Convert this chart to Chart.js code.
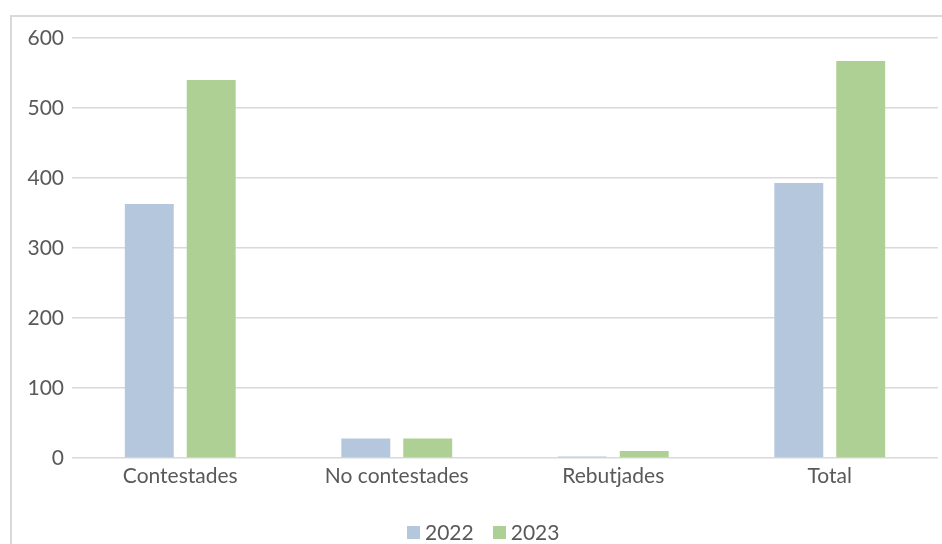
<!DOCTYPE html>
<html>
<head>
<meta charset="utf-8">
<script src="https://cdn.jsdelivr.net/npm/chart.js@4"></script>
<style>
  body { margin: 0; background: #fff; font-family: Lato, "Open Sans", sans-serif; }
  #frame { position: absolute; left: 10px; top: 15px; width: 960px; height: 560px; border: 2px solid #d9d9d9; box-sizing: border-box; }
  #wrap { position: absolute; left: 0; top: 0; width: 942px; height: 544px; }
  #legend { position: absolute; left: 407px; top: 520px; display: flex; align-items: center; font-size: 21px; color: #595959; line-height: 24px; }
  #legend .item { display: flex; align-items: center; margin-right: 19px; }
  #legend .box { width: 13px; height: 13px; margin-right: 5px; }
</style>
</head>
<body>
<div id="frame"></div>
<div id="wrap"><canvas id="bar-chart"></canvas></div>
<div id="legend"></div>
<script>
const categories = ['Contestades', 'No contestades', 'Rebutjades', 'Total']
const values2022 = [363, 28, 2, 393]
const values2023 = [540, 28, 10, 567]
const yTicks = [0, 100, 200, 300, 400, 500, 600]

const barChartContext = document.getElementById('bar-chart').getContext('2d')
const fontFamily = 'Lato, "Open Sans", sans-serif'
const labelFont = { family: fontFamily, size: 21 }

const chart = new Chart(barChartContext, {
    type: 'bar',
    data: {
        labels: categories,
        datasets: [
            { label: '2022', data: values2022, backgroundColor: '#b4c7dd' },
            { label: '2023', data: values2023, backgroundColor: '#afd095' }
        ]
    },
    options: {
        responsive: true,
        maintainAspectRatio: false,
        animation: false,
        categoryPercentage: 0.572,
        barPercentage: 0.79,
        layout: { padding: { top: 38, right: 4, left: 0, bottom: 46 } },
        scales: {
            x: {
                grid: { display: false, drawTicks: false },
                border: { display: false },
                ticks: { color: '#595959', font: labelFont, padding: 6 },
                afterFit: scale => { scale.height = 40 }
            },
            y: {
                min: 0,
                max: 600,
                afterBuildTicks: scale => { scale.ticks = yTicks.map(v => ({ value: v })) },
                grid: { color: '#d9d9d9', lineWidth: 1.5, drawTicks: false },
                border: { display: false },
                ticks: { color: '#595959', font: labelFont, padding: 8 },
                afterFit: scale => { scale.width = 72 }
            }
        },
        plugins: {
            legend: { display: false },
            tooltip: { enabled: false }
        }
    }
})

// simple html legend under the chart
const legendEl = document.getElementById('legend')
chart.data.datasets.forEach(ds => {
    const item = document.createElement('span')
    item.className = 'item'
    item.innerHTML = `<span class="box" style="background:${ds.backgroundColor}"></span>${ds.label}`
    legendEl.appendChild(item)
})
</script>
</body>
</html>
